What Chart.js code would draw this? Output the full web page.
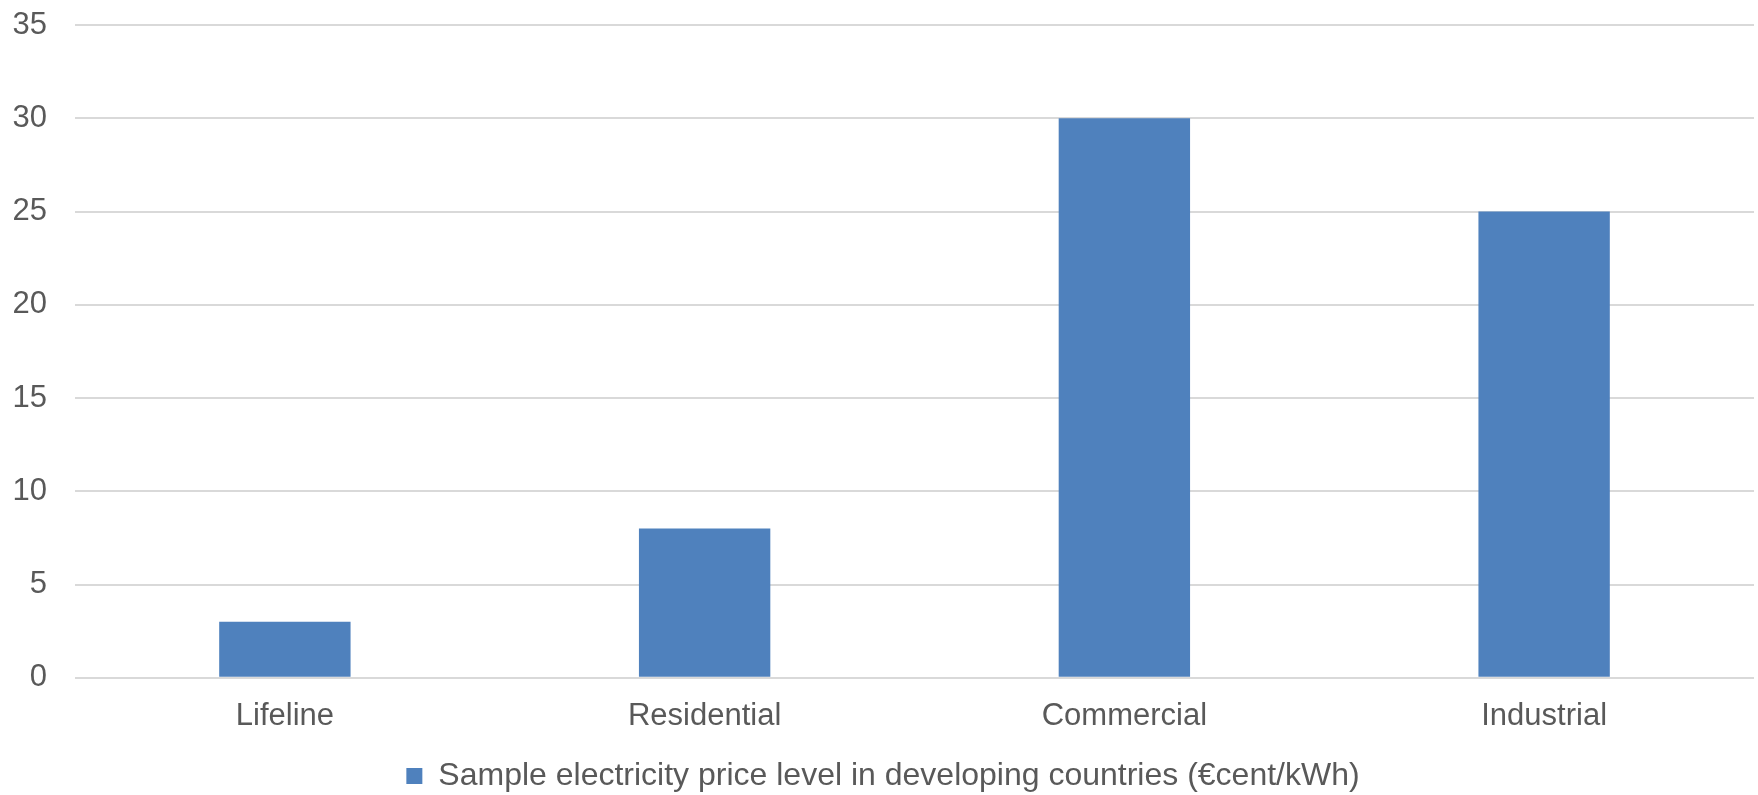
<!DOCTYPE html>
<html>
<head>
    <title>Electricity price level</title>
    <script src="https://cdn.jsdelivr.net/npm/chart.js"></script>
    <style>
        html, body { margin: 0; padding: 0; background: #ffffff; }
        #wrap { width: 1758px; height: 795px; }
    </style>
</head>
<body>
    <div id="wrap">
        <canvas id="myChart"></canvas>
    </div>
    <script>
        // Chart data
        const categories = ['Lifeline', 'Residential', 'Commercial', 'Industrial'];
        const priceLevels = [3, 8, 30, 25];
        const seriesLabel = 'Sample electricity price level in developing countries (€cent/kWh)';

        const textColor = '#595959';
        const gridColor = '#d9d9d9';
        const fontFamily = '"Liberation Sans", Arial, sans-serif';

        const ctx = document.getElementById('myChart').getContext('2d');
        const myChart = new Chart(ctx, {
            type: 'bar',
            data: {
                labels: categories,
                datasets: [
                    {
                        label: seriesLabel,
                        data: priceLevels,
                        backgroundColor: '#4f81bd',
                        borderWidth: 0,
                        categoryPercentage: 1,
                        barPercentage: 0.313,
                    },
                ],
            },
            options: {
                responsive: true,
                maintainAspectRatio: false,
                animation: false,
                layout: {
                    padding: { left: 12, right: 4, top: 25, bottom: -7 },
                },
                plugins: {
                    tooltip: { enabled: false },
                    legend: {
                        position: 'bottom',
                        labels: {
                            color: textColor,
                            font: { family: fontFamily, size: 32 },
                            boxWidth: 16,
                            boxHeight: 16,
                            padding: 0,
                        },
                    },
                },
                scales: {
                    x: {
                        grid: { display: false },
                        border: { display: false },
                        ticks: {
                            color: textColor,
                            font: { family: fontFamily, size: 31 },
                            padding: 12,
                        },
                        afterFit: (scale) => { scale.height += 13; },
                    },
                    y: {
                        min: 0,
                        max: 35,
                        // invisible tick marks keep the gap between labels and grid
                        grid: {
                            color: gridColor,
                            lineWidth: 2,
                            drawTicks: true,
                            tickLength: 25,
                            tickColor: 'rgba(0,0,0,0)',
                        },
                        border: { display: false },
                        ticks: {
                            stepSize: 5,
                            color: textColor,
                            font: { family: fontFamily, size: 31 },
                            padding: 3,
                        },
                        afterFit: (scale) => { scale.width = 63; },
                    },
                },
            },
        });
    </script>
</body>
</html>
